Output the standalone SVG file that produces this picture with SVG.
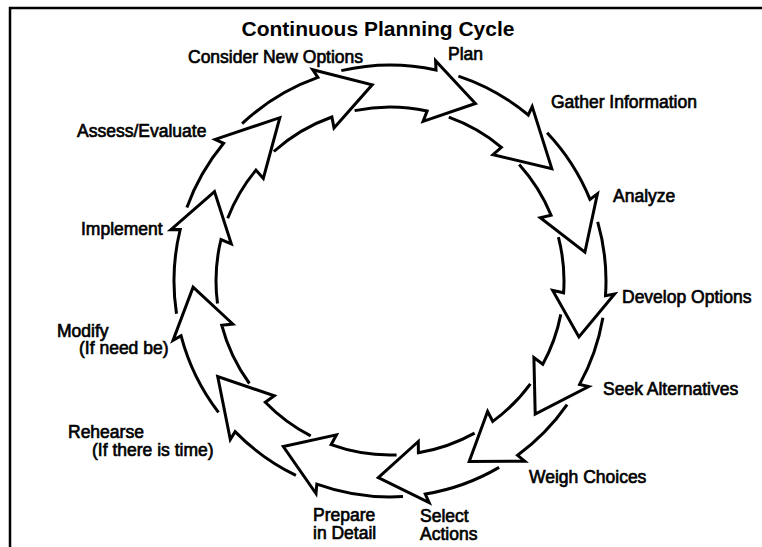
<svg xmlns="http://www.w3.org/2000/svg" width="762" height="547" viewBox="0 0 762 547">
<style>
.frame{fill:none;stroke:#000;stroke-width:2.5}
.arrow{fill:none;stroke:#000;stroke-width:3;stroke-linejoin:miter;stroke-miterlimit:12;stroke-linecap:butt}
.title{font-family:"Liberation Sans",Arial,sans-serif;font-size:21px;font-weight:bold;fill:#000}
.lbl{font-family:"Liberation Sans",Arial,sans-serif;font-size:17.5px;fill:#000;stroke:#000;stroke-width:0.65}
</style>
<rect width="762" height="547" fill="#fff"/>
<path class="frame" d="M10,547 V8 H762"/>
<text class="title" x="378" y="36" text-anchor="middle">Continuous Planning Cycle</text>
<g id="connectors" transform="translate(0,-1)">
<path id="a-consider" class="arrow" d="M242.1,124.6 A216,216 0 0 1 317.9,78.4 L312.7,70.7 L372.2,85.8 L334.0,128.9 L331.9,118.0 A174,174 0 0 0 273.8,152.5"/>
<path id="a-plan" class="arrow" d="M341.3,71.6 A216,216 0 0 1 436.0,71.0 L435.6,61.7 L475.4,104.5 L423.1,122.4 L427.1,112.0 A174,174 0 0 0 354.6,111.6"/>
<path id="a-gather" class="arrow" d="M458.4,77.1 A216,216 0 0 1 528.3,116.0 L532.2,107.6 L551.8,169.6 L493.0,155.7 L501.4,148.3 A174,174 0 0 0 448.8,118.2"/>
<path id="a-analyze" class="arrow" d="M547.1,133.7 A216,216 0 0 1 590.0,200.4 L597.4,194.8 L584.9,253.2 L540.3,218.8 L551.1,216.3 A174,174 0 0 0 519.2,165.5"/>
<path id="a-develop" class="arrow" d="M597.7,222.8 A216,216 0 0 1 605.5,296.7 L614.6,295.0 L578.9,337.9 L552.7,291.4 L563.6,293.8 A174,174 0 0 0 558.4,238.1"/>
<path id="a-seek" class="arrow" d="M602.9,318.7 A216,216 0 0 1 579.6,385.4 L588.7,387.6 L535.2,415.1 L533.9,358.5 L542.8,365.3 A174,174 0 0 0 560.8,315.4"/>
<path id="a-weigh" class="arrow" d="M567.1,405.7 A216,216 0 0 1 517.6,456.3 L524.8,462.2 L469.2,462.4 L487.6,412.5 L492.8,422.4 A174,174 0 0 0 530.4,384.8"/>
<path id="a-select" class="arrow" d="M499.1,468.4 A216,216 0 0 1 425.3,495.1 L429.1,503.6 L378.3,478.6 L418.3,442.5 L418.4,453.7 A174,174 0 0 0 474.6,434.1"/>
<path id="a-prepare" class="arrow" d="M403.0,497.6 A216,216 0 0 1 316.8,485.2 L316.0,494.5 L283.3,447.6 L336.4,435.9 L331.1,445.7 A174,174 0 0 0 396.6,455.9"/>
<path id="a-rehearse" class="arrow" d="M295.9,476.4 A216,216 0 0 1 235.1,432.6 L230.3,440.5 L217.7,377.5 L274.3,396.8 L265.3,403.3 A174,174 0 0 0 310.7,436.9"/>
<path id="a-modify" class="arrow" d="M218.5,413.3 A216,216 0 0 1 181.1,336.8 L173.0,341.4 L193.1,288.2 L232.8,325.0 L221.7,326.2 A174,174 0 0 0 249.4,384.5"/>
<path id="a-implement" class="arrow" d="M176.5,314.7 A216,216 0 0 1 180.2,230.5 L170.9,230.6 L214.5,192.6 L231.3,244.8 L221.0,240.5 A174,174 0 0 0 217.5,304.5"/>
<path id="a-assess" class="arrow" d="M186.9,208.5 A216,216 0 0 1 223.6,144.3 L215.2,140.4 L279.8,118.7 L263.3,179.4 L255.9,171.1 A174,174 0 0 0 227.7,219.2"/>
</g>
<g id="n-consider"><text class="lbl" x="188" y="63">Consider New Options</text></g>
<g id="n-plan"><text class="lbl" x="448" y="60">Plan</text></g>
<g id="n-gather"><text class="lbl" x="551" y="108">Gather Information</text></g>
<g id="n-analyze"><text class="lbl" x="613" y="202">Analyze</text></g>
<g id="n-develop"><text class="lbl" x="622" y="303">Develop Options</text></g>
<g id="n-seek"><text class="lbl" x="603" y="395">Seek Alternatives</text></g>
<g id="n-weigh"><text class="lbl" x="529" y="483">Weigh Choices</text></g>
<g id="n-select"><text class="lbl" x="420" y="522">Select<tspan x="420" dy="18">Actions</tspan></text></g>
<g id="n-prepare"><text class="lbl" x="313" y="521">Prepare<tspan x="313" dy="18">in Detail</tspan></text></g>
<g id="n-rehearse"><text class="lbl" x="68" y="438">Rehearse<tspan x="92" dy="18">(If there is time)</tspan></text></g>
<g id="n-modify"><text class="lbl" x="57" y="337">Modify<tspan x="79" dy="17">(If need be)</tspan></text></g>
<g id="n-implement"><text class="lbl" x="81" y="235">Implement</text></g>
<g id="n-assess"><text class="lbl" x="77" y="137">Assess/Evaluate</text></g>
</svg>
